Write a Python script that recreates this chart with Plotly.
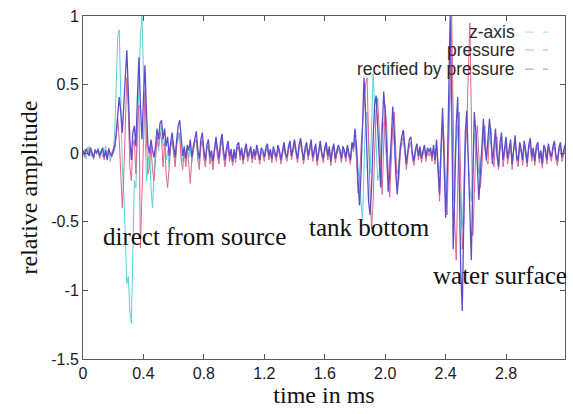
import plotly.graph_objects as go

# sampling grid in ms (0.01 ms step)
time_ms = [round(i * 0.01, 2) for i in range(320)]

z_axis = [
    0.00, 0.03, -0.04, 0.02, 0.05, -0.02, 0.01, -0.05, 0.03, -0.01,
    0.04, -0.01, 0.02, -0.03, 0.01, 0.05, -0.04, 0.02, -0.06, 0.01,
    0.03, 0.15, 0.50, 0.85, 0.90, 0.40, -0.10, -0.30, -0.60, -0.95,
    -0.90, -1.15, -1.24, -0.80, -0.20, -0.25, 0.10, 0.50, 0.85, 1.00,
    0.60, 0.10, -0.20, -0.10, 0.05, -0.25, -0.40, -0.15, 0.05, 0.10,
    0.02, 0.12, 0.20, 0.05, 0.10, -0.05, 0.02, -0.10, 0.05, 0.08,
    -0.02, -0.08, 0.06, 0.12, 0.15, 0.00, -0.06, 0.03, -0.07, 0.04,
    -0.03, 0.05, -0.07, 0.02, 0.08, 0.10, -0.02, -0.08, 0.06, 0.09,
    -0.01, -0.07, 0.04, 0.06, -0.05, 0.00, -0.08, 0.03, 0.08, 0.00,
    -0.05, 0.05, 0.09, -0.01, -0.07, 0.02, 0.06, -0.04, 0.01, -0.07,
    0.01, -0.03, 0.04, 0.05, -0.03, 0.02, -0.04, 0.01, 0.05, -0.02,
    0.00, 0.03, -0.03, 0.02, -0.04, 0.04, 0.00, -0.04, 0.02, 0.01,
    -0.02, 0.02, 0.05, -0.03, 0.01, -0.05, 0.03, 0.00, -0.04, 0.04,
    0.01, -0.04, 0.02, 0.05, -0.01, -0.04, 0.03, 0.06, -0.03, 0.02,
    0.06, 0.00, -0.05, 0.04, 0.07, 0.01, -0.06, 0.02, 0.05, -0.03,
    0.03, 0.06, -0.04, 0.01, 0.04, -0.05, 0.02, 0.05, 0.00, -0.05,
    0.02, 0.05, -0.03, 0.03, -0.05, 0.01, 0.05, -0.04, 0.01, 0.04,
    0.02, -0.05, 0.03, 0.00, -0.04, 0.04, -0.02, -0.05, 0.05, 0.02,
    0.10, 0.05, -0.10, -0.25, -0.40, -0.49, -0.10, 0.25, 0.30, 0.05,
    -0.15, 0.20, 0.58, 0.35, 0.00, -0.20, -0.15, 0.10, 0.25, 0.20,
    0.05, -0.10, -0.20, -0.05, 0.10, 0.20, 0.05, -0.10, -0.15, -0.05,
    0.02, 0.06, 0.08, 0.02, -0.05, 0.00, 0.05, 0.06, -0.02, -0.04,
    0.02, 0.04, -0.03, 0.03, -0.02, 0.01, 0.04, -0.02, 0.02, 0.00,
    0.02, -0.03, 0.04, -0.04, 0.05, -0.08, -0.15, 0.05, 0.20, 0.00,
    -0.25, -0.15, 0.20, 0.50, 0.25, -0.35, -0.15, 0.10, 0.20, -0.10,
    -0.40, -0.55, -0.20, 0.08, 0.15, -0.05, -0.25, -0.35, -0.10, 0.15,
    0.08, -0.05, -0.15, -0.08, 0.02, 0.12, 0.02, -0.03, 0.05, 0.12,
    0.06, -0.04, 0.02, 0.09, -0.01, -0.05, 0.04, 0.08, -0.03, 0.01,
    0.06, -0.02, 0.01, 0.05, -0.04, 0.03, 0.07, -0.01, -0.03, 0.04,
    0.02, -0.03, 0.05, 0.01, -0.04, 0.03, 0.06, -0.02, 0.02, -0.03,
    0.03, 0.04, -0.02, 0.01, -0.04, 0.03, 0.02, -0.03, 0.04, 0.00,
    -0.02, 0.03, 0.05, -0.01, -0.03, 0.02, 0.04, -0.02, 0.01, 0.03,
]

pressure = [
    0.01, -0.03, 0.02, 0.04, -0.01, 0.02, -0.02, -0.04, 0.03, 0.01,
    0.02, -0.04, 0.00, 0.03, -0.05, 0.01, -0.03, 0.04, -0.02, -0.03,
    0.00, 0.03, 0.12, 0.25, 0.10, -0.20, -0.40, -0.15, 0.30, 0.55,
    0.30, -0.10, -0.20, 0.05, 0.10, -0.15, 0.20, 0.35, -0.69, -0.30,
    0.20, 0.45, 0.10, -0.15, -0.10, 0.05, -0.12, -0.20, -0.05, 0.12,
    0.05, 0.15, 0.10, -0.10, 0.08, -0.15, -0.25, -0.08, 0.04, 0.10,
    -0.02, -0.10, 0.05, 0.15, 0.12, -0.05, -0.12, 0.02, -0.10, 0.03,
    -0.08, -0.22, -0.05, 0.03, 0.08, 0.10, -0.05, -0.12, 0.05, 0.10,
    -0.04, -0.10, 0.03, 0.06, -0.08, -0.02, -0.12, 0.01, 0.08, -0.03,
    -0.08, 0.04, 0.10, -0.03, -0.10, 0.00, 0.05, -0.06, -0.01, -0.09,
    0.00, -0.07, 0.03, 0.05, -0.05, 0.01, -0.08, -0.01, 0.04, -0.06,
    -0.01, 0.02, -0.07, 0.00, -0.05, 0.03, -0.02, -0.08, 0.01, -0.01,
    -0.06, 0.01, 0.04, -0.05, 0.00, -0.07, 0.02, -0.02, -0.06, 0.03,
    -0.01, -0.08, 0.00, 0.05, -0.03, -0.06, 0.02, 0.06, -0.05, 0.01,
    0.07, -0.01, -0.07, 0.03, 0.08, 0.00, -0.08, 0.01, 0.05, -0.05,
    0.02, 0.07, -0.06, -0.01, 0.04, -0.09, 0.00, 0.06, -0.02, -0.07,
    0.01, 0.05, -0.05, 0.02, -0.09, 0.00, 0.04, -0.07, -0.01, 0.03,
    0.00, -0.07, 0.02, -0.01, -0.06, 0.03, -0.03, -0.08, 0.05, 0.01,
    0.10, -0.05, -0.29, -0.20, 0.05, 0.20, 0.40, 0.50, 0.55, 0.10,
    -0.30, -0.55, -0.35, 0.00, 0.30, 0.40, 0.15, -0.15, -0.30, 0.05,
    0.35, 0.20, -0.15, -0.32, -0.10, 0.20, 0.30, 0.00, -0.25, -0.20,
    0.00, 0.08, 0.12, 0.00, -0.12, -0.02, 0.06, 0.08, -0.04, -0.09,
    0.00, 0.04, -0.05, 0.02, -0.07, -0.01, 0.03, -0.06, 0.01, -0.02,
    0.01, -0.06, 0.03, -0.08, 0.05, -0.15, -0.35, 0.00, 0.25, 0.10,
    -0.35, -0.45, 0.10, 0.60, 1.00, 0.30, -0.50, -0.78, -0.20, 0.30,
    -0.20, -0.70, -0.50, 0.00, 0.20, 0.60, 0.95, 0.30, -0.60, -0.30,
    0.05, 0.20, -0.05, -0.25, -0.10, 0.15, 0.20, -0.05, -0.08, 0.15,
    0.18, -0.05, -0.10, 0.10, 0.12, -0.12, 0.02, 0.10, -0.10, -0.02,
    0.08, -0.08, -0.02, 0.06, -0.12, 0.02, 0.09, -0.05, -0.10, 0.05,
    0.00, -0.09, 0.06, -0.01, -0.10, 0.03, 0.08, -0.06, 0.01, -0.09,
    0.02, 0.05, -0.07, -0.01, -0.11, 0.03, 0.00, -0.08, 0.04, -0.02,
    -0.06, 0.02, 0.06, -0.05, -0.09, 0.01, 0.05, -0.06, -0.01, 0.03,
]

rectified = [
    0.02, -0.01, 0.03, 0.00, -0.02, 0.04, 0.01, -0.03, 0.02, 0.00,
    0.03, -0.02, 0.01, 0.04, -0.03, 0.02, -0.05, 0.03, 0.00, -0.02,
    0.02, 0.05, 0.15, 0.30, 0.41, 0.30, 0.15, 0.35, 0.60, 0.75,
    0.45, 0.10, -0.05, 0.15, 0.20, 0.05, 0.40, 0.70, 0.35, 0.10,
    0.40, 0.64, 0.30, 0.05, 0.00, 0.10, 0.02, -0.03, 0.05, 0.18,
    0.10, 0.22, 0.24, 0.10, 0.18, 0.05, 0.12, -0.02, 0.08, 0.15,
    0.05, -0.03, 0.10, 0.20, 0.24, 0.08, -0.02, 0.05, -0.04, 0.06,
    0.02, 0.10, -0.03, 0.05, 0.12, 0.16, 0.02, -0.04, 0.10, 0.15,
    0.02, -0.05, 0.06, 0.10, -0.03, 0.02, -0.06, 0.05, 0.12, 0.03,
    -0.04, 0.08, 0.14, 0.02, -0.05, 0.04, 0.09, -0.02, 0.03, -0.06,
    0.03, -0.04, 0.06, 0.08, -0.02, 0.04, -0.05, 0.02, 0.07, -0.03,
    0.02, 0.05, -0.04, 0.03, -0.02, 0.06, 0.01, -0.05, 0.04, 0.02,
    -0.03, 0.04, 0.07, -0.02, 0.03, -0.04, 0.05, 0.01, -0.03, 0.06,
    0.02, -0.05, 0.03, 0.08, 0.00, -0.03, 0.05, 0.09, -0.02, 0.04,
    0.10, 0.02, -0.04, 0.06, 0.11, 0.03, -0.05, 0.04, 0.08, -0.02,
    0.05, 0.10, -0.03, 0.02, 0.07, -0.06, 0.03, 0.09, 0.01, -0.04,
    0.04, 0.08, -0.02, 0.05, -0.06, 0.03, 0.07, -0.04, 0.02, 0.06,
    0.03, -0.04, 0.05, 0.02, -0.03, 0.06, 0.00, -0.05, 0.08, 0.04,
    0.18, 0.05, -0.20, -0.38, -0.15, 0.30, 0.55, 0.30, -0.10, -0.35,
    -0.45, -0.25, 0.10, 0.35, 0.42, 0.20, -0.05, -0.25, 0.15, 0.45,
    0.30, -0.05, -0.28, -0.15, 0.15, 0.34, 0.15, -0.15, -0.30, -0.10,
    0.05, 0.12, 0.17, 0.05, -0.08, 0.02, 0.10, 0.12, 0.00, -0.06,
    0.03, 0.07, -0.02, 0.05, -0.04, 0.02, 0.06, -0.03, 0.04, 0.01,
    0.04, -0.03, 0.06, -0.05, 0.10, -0.10, -0.30, 0.05, 0.33, -0.10,
    -0.47, -0.20, 0.40, 1.00, 0.40, -0.70, -0.30, 0.20, 0.41, -0.20,
    -0.85, -1.15, -0.40, 0.15, 0.31, -0.10, -0.45, -0.78, -0.20, 0.30,
    0.15, -0.10, -0.34, -0.15, 0.05, 0.25, 0.05, -0.05, 0.10, 0.25,
    0.12, -0.08, 0.05, 0.18, -0.02, -0.10, 0.08, 0.15, -0.05, 0.03,
    0.12, -0.04, 0.02, 0.10, -0.08, 0.05, 0.13, -0.02, -0.06, 0.08,
    0.03, -0.05, 0.09, 0.02, -0.07, 0.06, 0.11, -0.03, 0.04, -0.06,
    0.05, 0.08, -0.04, 0.02, -0.08, 0.06, 0.03, -0.05, 0.07, 0.01,
    -0.03, 0.05, 0.09, -0.02, -0.06, 0.04, 0.08, -0.03, 0.02, 0.06,
]

series_names = ["z-axis", "pressure", "rectified by pressure"]
series_colors = ["#5ad2da", "#e0668e", "#5a4ecc"]
series_widths = [1.0, 1.0, 1.3]

x_tick_vals = [0, 0.4, 0.8, 1.2, 1.6, 2.0, 2.4, 2.8]
x_tick_text = ["0", "0.4", "0.8", "1.2", "1.6", "2.0", "2.4", "2.8"]
y_tick_vals = [1, 0.5, 0, -0.5, -1, -1.5]
y_tick_text = ["1", "0.5", "0", "-0.5", "-1", "-1.5"]

labels = ["direct from source", "tank bottom", "water surface"]
label_x = [0.735, 1.894, 2.76]
label_y = [-0.61, -0.54, -0.89]

fig = go.Figure()
for name, ys, col, w in zip(series_names, [z_axis, pressure, rectified],
                             series_colors, series_widths):
    fig.add_trace(go.Scatter(x=time_ms, y=ys, mode="lines", name=name,
                             line=dict(color=col, width=w), showlegend=False))

serif = "Liberation Serif, Times New Roman, serif"
sans = "Liberation Sans, Arial, sans-serif"

for txt, lx, ly in zip(labels, label_x, label_y):
    fig.add_annotation(x=lx, y=ly, xref="x", yref="y", text=txt,
                       showarrow=False, font=dict(family=serif, size=25, color="#111"))

# gnuplot-style key: right-aligned text, sample line on the right
key_y = [0.953, 0.901, 0.845]
for name, col, ky in zip(series_names, series_colors, key_y):
    fig.add_annotation(x=0.900, y=ky, xref="paper", yref="paper", text=name,
                       xanchor="right", yanchor="middle", showarrow=False,
                       font=dict(family=sans, size=17.5, color="#2a2a2a"))
    fig.add_shape(type="line", xref="paper", yref="paper",
                  x0=0.917, x1=0.965, y0=ky, y1=ky,
                  line=dict(color=col, width=1, dash="dash"), opacity=0.6)

axis_common = dict(showline=True, mirror="allticks", linecolor="#55557a", linewidth=1,
                   ticks="inside", ticklen=5, tickcolor="#55557a",
                   showgrid=False, zeroline=False, automargin=False,
                   tickfont=dict(family=sans, size=16, color="#1a1a1a"))

fig.update_layout(
    width=573, height=414,
    margin=dict(l=83, r=8, t=16, b=55),
    paper_bgcolor="white", plot_bgcolor="white",
    xaxis=dict(range=[0, 3.19], tickvals=x_tick_vals, ticktext=x_tick_text,
               title=dict(text="time in ms", font=dict(family=serif, size=24, color="#111"),
                          standoff=2),
               **axis_common),
    yaxis=dict(range=[-1.5, 1.0], tickvals=y_tick_vals, ticktext=y_tick_text,
               title=dict(text="relative amplitude", font=dict(family=serif, size=24, color="#111"),
                          standoff=6),
               **axis_common),
)

fig.write_html("out.html", config={"displayModeBar": False},
               post_script="document.body.style.margin='0';document.body.style.overflow='hidden';")
